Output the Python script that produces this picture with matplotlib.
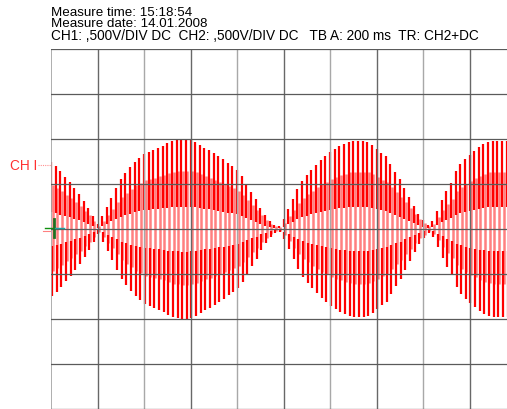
import matplotlib
matplotlib.use('Agg')
import matplotlib.pyplot as plt
import numpy as np

plt.rcParams['font.family'] = ['Liberation Sans', 'DejaVu Sans']

# header lines printed above the screen
header = ['Measure time: 15:18:54', 'Measure date: 14.01.2008']
settings = 'CH1: ,500V/DIV DC  CH2: ,500V/DIV DC   TB A: 200 ms  TR: CH2+DC'

# screen is 10 x 8 divisions, 200 ms/div -> 10 mains cycles per division
n_xdiv, n_ydiv = 10, 8
cycles_per_div = 10

# peak amplitude of each mains cycle, in screen pixels (45 px = 1 div)
envelope_px = [67, 63, 58, 52, 47, 41, 35, 28, 21, 13,
               5, 13, 22, 31, 41, 50, 56, 62, 67, 71,
               75, 77, 79, 81, 83, 86, 88, 89, 90, 90,
               89, 87, 84, 81, 79, 76, 73, 70, 66, 63,
               59, 53, 45, 37, 30, 21, 14, 8, 4, 3,
               10, 20, 30, 40, 48, 54, 59, 64, 69, 73,
               77, 80, 83, 85, 87, 88, 88, 88, 87, 84,
               80, 76, 73, 65, 57, 50, 41, 32, 23, 15,
               9, 4, 8, 18, 29, 38, 46, 58, 65, 70,
               74, 78, 82, 85, 87, 88, 88, 88, 88, 88]

amp = np.array(envelope_px) / 45.0
t = np.arange(len(amp)) / cycles_per_div

fig = plt.figure(figsize=(5.07, 4.10), dpi=100)
W, H = 507, 410
ax = fig.add_axes([51 / W, 0, 465 / W, 360 / H])
ax.set_xlim(0, n_xdiv)
ax.set_ylim(-n_ydiv / 2, n_ydiv / 2)
ax.axis('off')

# trace: light middle part of each swing, dark near the peaks
off = 1.6 / 46.5
ax.vlines(t + off, -0.62 * amp, 0.65 * amp, color='#ff8080', lw=1.8, zorder=2)
ax.vlines(t, 0.25 * amp, amp, color='#ff0000', lw=1.6, zorder=3)
ax.vlines(t + off * 0.6, -amp, -0.25 * amp, color='#ff0000', lw=1.6, zorder=3)

# graticule
for i in range(n_xdiv + 1):
    c = '#a8a8a8' if i % 2 == 0 else '#686868'
    ax.axvline(i, color=c, lw=1.3 if i == 0 else 1.0, zorder=5)
for j in range(n_ydiv + 1):
    ax.axhline(j - n_ydiv / 2, color='#5a5a5a', lw=0.9, zorder=5)


def px(x, y):
    return (x - 51) / 46.5, (230 - y) / 45


# channel marker
ax.text(*px(37, 166), 'CH I', color='#ff3030', fontsize=9.8,
        ha='right', va='center', clip_on=False)
ax.plot(*zip(px(38, 166), px(51, 166)), color='#ff9090', lw=0.8,
        ls=(0, (1, 1)), clip_on=False, zorder=6)

# trigger position marks
ax.plot(*zip(px(43, 232), px(50, 232)), color='#ff8080', lw=0.8, clip_on=False, zorder=6)
ax.plot(*zip(px(45, 229), px(55, 229)), color='#109010', lw=1.0, clip_on=False, zorder=7)
ax.plot(*zip(px(54, 220), px(54, 238)), color='#207020', lw=2.0, clip_on=False, zorder=7)
ax.plot(*zip(px(55, 229), px(64, 229)), color='#20a0a0', lw=1.0, clip_on=False, zorder=7)

fs = 9.6
fig.text(51 / W, 1 - 16.0 / H, header[0], fontsize=fs, va='baseline')
fig.text(51 / W, 1 - 27.0 / H, header[1], fontsize=fs, va='baseline')
fig.text(51 / W, 1 - 40.0 / H, settings, fontsize=9.8, va='baseline')

fig.savefig('out.png', dpi=100)
